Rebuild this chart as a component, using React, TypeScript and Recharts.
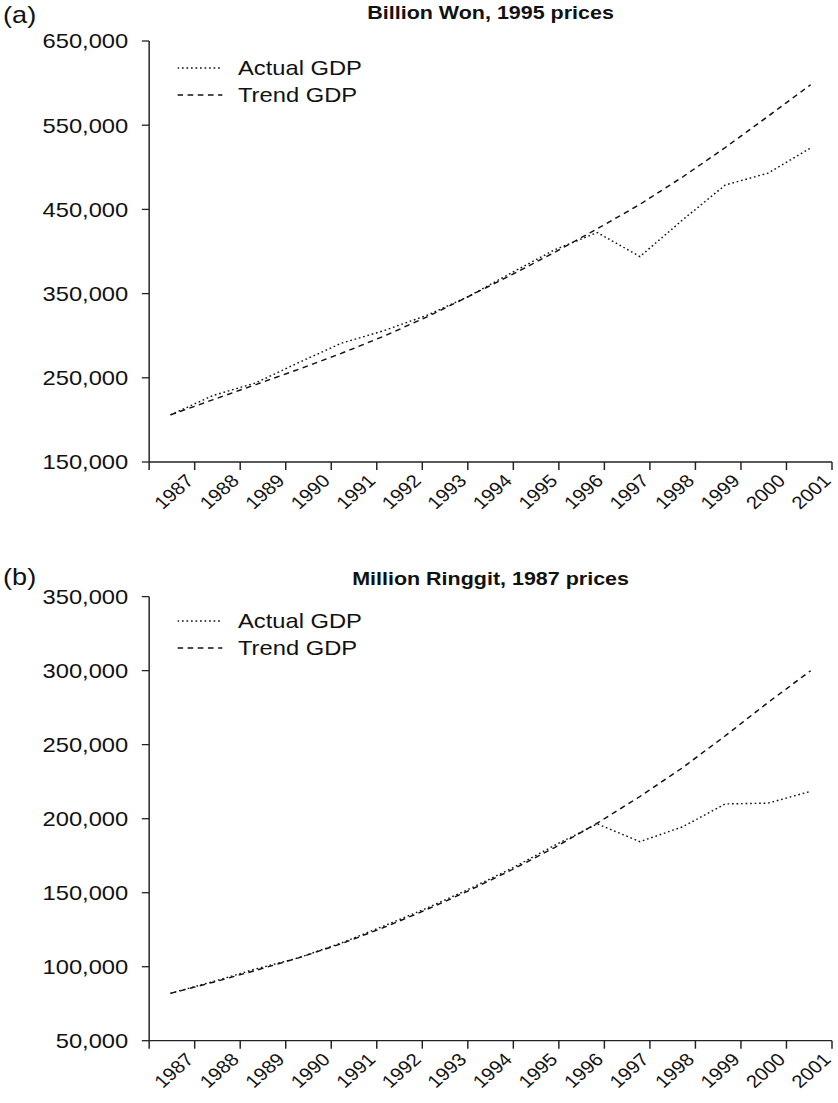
import { Legend, Line, LineChart, XAxis, YAxis } from 'recharts';

const YEARS = [1987, 1988, 1989, 1990, 1991, 1992, 1993, 1994, 1995, 1996, 1997, 1998, 1999, 2000, 2001, 2002];
const TICK_LABELS = ['1987', '1988', '1989', '1990', '1991', '1992', '1993', '1994', '1995', '1996', '1997', '1998', '1999', '2000', '2001'];

const KOREA_ACTUAL = [206000, 229000, 244000, 268000, 291000, 306000, 324000, 347000, 375000, 402000, 422500, 394000, 437500, 479000, 493000, 523000];
const KOREA_TREND = [206000, 224000, 242000, 260000, 279000, 299500, 322000, 347000, 372500, 399000, 427000, 456000, 488500, 523500, 560500, 598000];
const KOREA_Y_TICKS = [150000, 250000, 350000, 450000, 550000, 650000];

const MALAYSIA_ACTUAL = [82000, 90000, 98500, 106000, 116000, 127500, 139500, 152500, 166500, 182000, 196500, 184500, 194500, 210000, 210500, 218500];
const MALAYSIA_TREND = [82000, 89500, 97500, 106000, 115500, 126500, 138500, 151500, 165500, 180500, 197000, 215000, 234500, 256000, 278500, 300000];
const MALAYSIA_Y_TICKS = [50000, 100000, 150000, 200000, 250000, 300000, 350000];

// the reference is a little wider than a plain Helvetica rendering, so stretch horizontally
const SX = 1.13;
const PAGE_W = 838;
const PAGE_H = 1103;
const INNER_W = PAGE_W / SX;
const Y_AXIS_W = 132;
const RIGHT_MARGIN = 5.3;
const FONT = '"Liberation Sans", Arial, Helvetica, sans-serif';
const INK = '#111';
const DOTTED = '1.5 2.5';
const DASHED = '5 4';

const LABEL_DX = 0;
const LABEL_DY = 10;

function yearTick(props: any) {
  const { x, y, payload } = props;
  const label = payload.value > 0 ? TICK_LABELS[payload.value - 1] : '';
  if (!label) return <g />;
  const ax = x + LABEL_DX;
  const ay = y + LABEL_DY;
  return (
    <text
      x={ax}
      y={ay}
      textAnchor="end"
      transform={`rotate(-45 ${ax} ${ay})`}
      fontSize={18}
      fontFamily={FONT}
      fill={INK}
    >
      {label}
    </text>
  );
}

function renderLegend(props: any) {
  const items = [
    { label: 'Actual GDP', dash: DOTTED },
    { label: 'Trend GDP', dash: DASHED }
  ];
  const payload = props.payload && props.payload.length ? props.payload : null;
  return (
    <div>
      {items.map((item, i) => (
        <div key={item.label} style={{ display: 'flex', alignItems: 'center', height: 27 }}>
          <svg width={40} height={12}>
            <line x1={0} x2={40} y1={7} y2={7} stroke={INK} strokeWidth={1.4} strokeDasharray={item.dash} />
          </svg>
          <span style={{ marginLeft: 14, fontSize: 21, fontFamily: FONT, color: INK, lineHeight: '27px' }}>
            {payload ? payload[i]?.value ?? item.label : item.label}
          </span>
        </div>
      ))}
    </div>
  );
}

interface PanelProps {
  tag: string;
  title: string;
  actual: number[];
  trend: number[];
  yTicks: number[];
  top: number;
  height: number;
  plotTop: number;
  plotBottom: number;
  legendTop: number;
  tagTop: number;
  titleTop: number;
}

function Panel({ tag, title, actual, trend, yTicks, top, height, plotTop, plotBottom, legendTop, tagTop, titleTop }: PanelProps) {
  const data = YEARS.map((year, i) => ({ year, actual: actual[i], trend: trend[i] }));
  const labelPositions = [0, ...TICK_LABELS.map((_, i) => i + 1)];
  const plotLeft = Y_AXIS_W;
  const plotRight = INNER_W - RIGHT_MARGIN;

  return (
    <div style={{ position: 'absolute', left: 0, top, width: INNER_W, height }}>
      <div
        style={{
          position: 'absolute',
          left: 2.7,
          top: tagTop,
          fontSize: 24,
          lineHeight: 1,
          fontFamily: FONT,
          color: INK
        }}
      >
        {tag}
      </div>
      <div
        style={{
          position: 'absolute',
          left: plotLeft,
          width: plotRight - plotLeft,
          top: titleTop,
          textAlign: 'center',
          fontSize: 19,
          lineHeight: 1,
          fontWeight: 'bold',
          fontFamily: FONT,
          color: INK
        }}
      >
        {title}
      </div>
      <LineChart
        width={INNER_W}
        height={height}
        data={data}
        margin={{ top: plotTop, right: RIGHT_MARGIN, left: 0, bottom: 0 }}
      >
        <XAxis
          xAxisId="yr"
          dataKey="year"
          type="number"
          domain={[1986.5, 2002.5]}
          allowDataOverflow
          hide
        />
        <XAxis
          xAxisId="lab"
          type="number"
          domain={[0, 15]}
          ticks={labelPositions}
          interval={0}
          allowDataOverflow
          height={height - plotBottom}
          tickSize={8}
          tickMargin={2}
          tick={yearTick}
          axisLine={{ stroke: '#222', strokeWidth: 1.3 }}
          tickLine={{ stroke: '#222', strokeWidth: 1.3 }}
        />
        <YAxis
          type="number"
          domain={[yTicks[0], yTicks[yTicks.length - 1]]}
          ticks={yTicks}
          interval={0}
          width={Y_AXIS_W}
          tickSize={6.5}
          tickMargin={12}
          tickFormatter={(v: number) => v.toLocaleString('en-US')}
          tick={{ fontSize: 21, fill: INK, fontFamily: FONT }}
          axisLine={{ stroke: '#222', strokeWidth: 1.3 }}
          tickLine={{ stroke: '#222', strokeWidth: 1.3 }}
        />
        <Legend
          layout="horizontal"
          verticalAlign="middle"
          align="center"
          content={renderLegend}
          wrapperStyle={{ top: legendTop, left: 156.6, width: 320, height: 54 }}
        />
        <Line
          xAxisId="yr"
          type="linear"
          dataKey="actual"
          name="Actual GDP"
          stroke={INK}
          strokeWidth={1.4}
          strokeDasharray={DOTTED}
          dot={false}
          isAnimationActive={false}
        />
        <Line
          xAxisId="yr"
          type="linear"
          dataKey="trend"
          name="Trend GDP"
          stroke={INK}
          strokeWidth={1.4}
          strokeDasharray={DASHED}
          dot={false}
          isAnimationActive={false}
        />
      </LineChart>
    </div>
  );
}

export default function App() {
  return (
    <div style={{ position: 'relative', width: PAGE_W, height: PAGE_H, overflow: 'hidden', background: '#fff' }}>
      <style>{'body{margin:0}'}</style>
      <div
        style={{
          position: 'absolute',
          left: 0,
          top: 0,
          width: INNER_W,
          height: PAGE_H,
          transform: `scaleX(${SX})`,
          transformOrigin: '0 0'
        }}
      >
        <Panel
          tag="(a)"
          title="Billion Won, 1995 prices"
          actual={KOREA_ACTUAL}
          trend={KOREA_TREND}
          yTicks={KOREA_Y_TICKS}
          top={0}
          height={540}
          plotTop={41}
          plotBottom={462}
          legendTop={53.5}
          tagTop={3}
          titleTop={2.5}
        />
        <Panel
          tag="(b)"
          title="Million Ringgit, 1987 prices"
          actual={MALAYSIA_ACTUAL}
          trend={MALAYSIA_TREND}
          yTicks={MALAYSIA_Y_TICKS}
          top={540}
          height={563}
          plotTop={56.7}
          plotBottom={500.7}
          legendTop={66.5}
          tagTop={25}
          titleTop={28.5}
        />
      </div>
    </div>
  );
}
